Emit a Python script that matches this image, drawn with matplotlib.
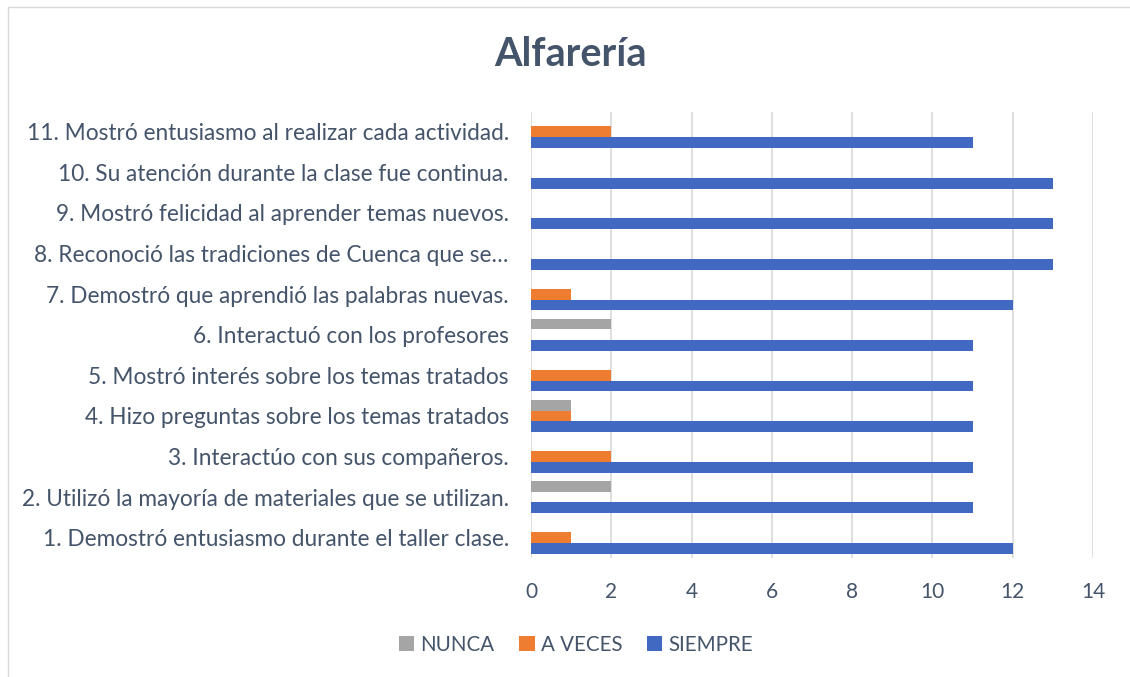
import matplotlib
matplotlib.use("Agg")
import matplotlib.pyplot as plt
from matplotlib.patches import Rectangle
import numpy as np

categories = [
    "1. Demostró entusiasmo durante el taller clase.",
    "2. Utilizó la mayoría de materiales que se utilizan.",
    "3. Interactúo con sus compañeros.",
    "4. Hizo preguntas sobre los temas tratados",
    "5. Mostró interés sobre los temas tratados",
    "6. Interactuó con los profesores",
    "7. Demostró que aprendió las palabras nuevas.",
    "8. Reconoció las tradiciones de Cuenca que se…",
    "9. Mostró felicidad al aprender temas nuevos.",
    "10. Su atención durante la clase fue continua.",
    "11. Mostró entusiasmo al realizar cada actividad.",
]
siempre = [12, 11, 11, 11, 11, 11, 12, 13, 13, 13, 11]
a_veces = [1, 0, 2, 1, 2, 0, 1, 0, 0, 0, 2]
nunca = [0, 2, 0, 1, 0, 2, 0, 0, 0, 0, 0]
series_names = ["NUNCA", "A VECES", "SIEMPRE"]
xticks = [0, 2, 4, 6, 8, 10, 12, 14]

TEXT = "#44546A"
FONT = ["Lato", "DejaVu Sans"]
plt.rcParams["font.family"] = FONT

W, H = 1130, 677
fig = plt.figure(figsize=(W / 100, H / 100), dpi=100)
fig.patch.set_facecolor("white")

# outer chart border
fig.patches.append(Rectangle((8 / W, -0.05), 1.2, (H - 7) / H + 0.05,
                             transform=fig.transFigure, fill=False,
                             edgecolor="#D9D9D9", linewidth=1.0))

ax = fig.add_axes([531 / W, 119 / H, (1093 - 531) / W, (558 - 111.5) / H])

y = np.arange(len(categories))
h = 0.265
b_s = ax.barh(y - h, siempre, height=h, color="#4169C2", linewidth=0, label="SIEMPRE", zorder=3)
b_a = ax.barh(y, a_veces, height=h, color="#EE7D31", linewidth=0, label="A VECES", zorder=3)
b_n = ax.barh(y + h, nunca, height=h, color="#A5A5A5", linewidth=0, label="NUNCA", zorder=3)

ax.set_xlim(0, 14)
ax.set_ylim(-0.5, len(categories) - 0.5)
ax.set_xticks(xticks)
ax.set_xticklabels([str(v) for v in xticks])
ax.set_yticks(y)
ax.set_yticklabels(categories)
ax.tick_params(axis="both", length=0, labelcolor=TEXT)
ax.tick_params(axis="x", pad=17, labelsize=15)
ax.tick_params(axis="y", pad=16, labelsize=16.3)
ax.grid(axis="x", color="#D9D9D9", linewidth=1.2, zorder=0)
for s in ax.spines.values():
    s.set_visible(False)

fig.text(570 / W, 1 - 55 / H, "Alfarería", ha="center", va="center",
         fontsize=28.5, fontweight="bold", color=TEXT)

fig.legend([b_n, b_a, b_s], series_names, loc="center", bbox_to_anchor=(576 / W, 1 - 645 / H),
           ncol=3, frameon=False, fontsize=14.8, labelcolor=TEXT,
           handlelength=0.75, handleheight=0.75, handletextpad=0.3, columnspacing=1.2)

fig.savefig("out.png", dpi=100, facecolor="white")
